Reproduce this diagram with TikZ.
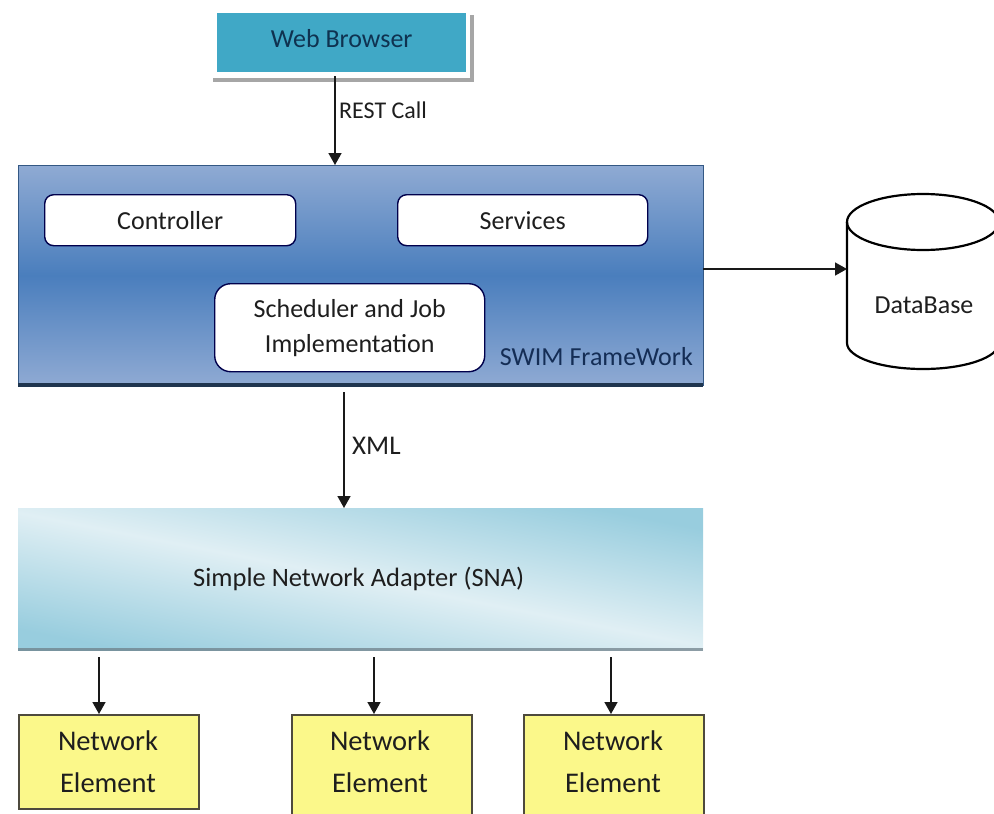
\documentclass[tikz,border=0pt]{standalone}
\usepackage{fontspec}
\setmainfont{Carlito}
\usetikzlibrary{arrows.meta}
\definecolor{txt}{HTML}{1E1E1E}
\definecolor{swimedge}{HTML}{8FAAD3}
\definecolor{swimmid}{HTML}{4A7EBD}
\definecolor{snadark}{HTML}{98CDDE}
\definecolor{snalight}{HTML}{E0EFF4}
\definecolor{neyellow}{HTML}{FBF88A}
\tikzset{
  x=1pt,y=-1pt,
  lbl/.style={font=\fontsize{26}{31}\selectfont,text=txt,inner sep=0pt,align=center},
  conn/.style={draw=black!90,line width=1.6pt,-{Triangle[length=12pt,width=13pt]}},
  whitebox/.style={draw=black!70!blue,line width=1.4pt,fill=white,rounded corners=9pt,anchor=north west,inner sep=0pt,lbl},
  neBox/.style={draw=black!80!yellow,line width=1.5pt,fill=neyellow,anchor=north west,inner sep=0pt,minimum width=180pt},
  neText/.style={lbl,font=\fontsize{28.5}{42}\selectfont},
}
\begin{document}
\begin{tikzpicture}
\useasboundingbox (0,0) rectangle (994,814);
\clip (0,0) rectangle (994,814);
% web browser
\fill[gray!70] (213,15) rectangle (474,82);
\node[fill=white,anchor=north west,inner sep=0pt,minimum width=257pt,minimum height=68pt] (brouter) at (213,10) {};
\node[fill={rgb,255:red,64;green,168;blue,198},anchor=north west,inner sep=0pt,minimum width=249pt,minimum height=59pt,lbl,text={rgb,255:red,15;green,50;blue,80}] (browser) at (217,13) {\raisebox{9pt}{Web Browser}};
% swim
\node[anchor=north west,inner sep=0pt,minimum width=685pt,minimum height=220pt,top color=swimedge,bottom color=swimedge,middle color=swimmid,draw=swimmid!70!black,line width=.6pt] (swim) at (18,165) {};
\fill[black!30!swimmid!60!black] (18,383) rectangle (703,387);
\node[whitebox,minimum width=251pt,minimum height=51pt] (ctrl) at (44,194) {Controller};
\node[whitebox,minimum width=250pt,minimum height=51pt] (serv) at (397,194) {Services};
\node[whitebox,minimum width=270pt,minimum height=88pt,font=\fontsize{26}{35}\selectfont,rounded corners=16pt] (sched) at (214,283) {Scheduler and Job\\Implementation};
\node[lbl,anchor=east,text={rgb,255:red,20;green,45;blue,85}] (swimlbl) at (693,357) {SWIM FrameWork};
% sna
\node[anchor=north west,inner sep=0pt,minimum width=685pt,minimum height=142pt,lbl,font=\fontsize{26.5}{31}\selectfont,shading=axis,top color=snadark,bottom color=snadark,middle color=snalight,shading angle=169] (sna) at (18,508) {\hspace*{-4pt}Simple Network Adapter (SNA)};
\fill[gray!70!cyan!70!black,opacity=.7] (18,648) rectangle (703,651);
% elements
\node[neBox,minimum height=94pt] (ne1) at (18,714) {};
\node[neBox,minimum height=110pt] (ne2) at (291,714) {};
\node[neBox,minimum height=110pt] (ne3) at (523,714) {};
\node[neText] (ne1t) at (108,762) {Network\\Element};
\node[neText] (ne2t) at (380,762) {Network\\Element};
\node[neText] (ne3t) at (613,762) {Network\\Element};
% database
\coordinate (dbl) at (847,222);
\draw[line width=2.2pt,fill=white] (847,222) arc[start angle=180,end angle=540,x radius=76,y radius=28];
\draw[line width=2.2pt] (847,222) -- (847,343) arc[start angle=180,end angle=0,x radius=76,y radius=26] -- (999,222);
\node[lbl] (db) at (924,305) {DataBase};
% connectors
\coordinate (c1) at (335,76);
\coordinate (c2) at (344,392);
\coordinate (c3) at (703,269);
\coordinate (c4) at (99,657);
\coordinate (c5) at (374,657);
\coordinate (c6) at (611,657);
\draw[conn] (c1) -- (c1 |- swim.north);
\draw[conn] (c2) -- (c2 |- sna.north);
\draw[conn] (c3) -- (c3 -| dbl);
\draw[conn] (c4) -- (c4 |- ne1.north);
\draw[conn] (c5) -- (c5 |- ne2.north);
\draw[conn] (c6) -- (c6 |- ne3.north);
\node[lbl,anchor=west,font=\fontsize{24}{29}\selectfont] (rest) at (339,110) {REST Call};
\node[lbl,anchor=west,font=\fontsize{27}{32}\selectfont] (xml) at (352,446) {XML};
\end{tikzpicture}
\end{document}
